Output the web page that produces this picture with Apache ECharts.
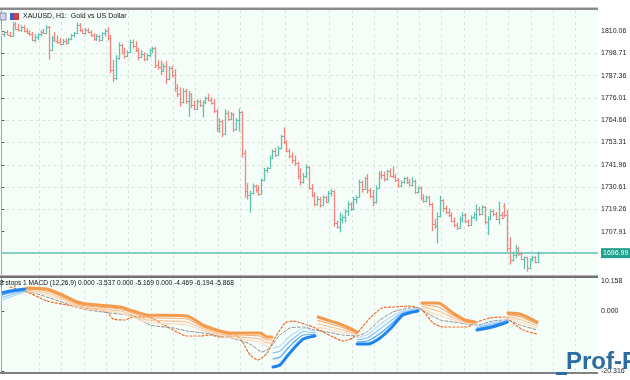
<!DOCTYPE html>
<html><head><meta charset="utf-8">
<script src="https://cdn.jsdelivr.net/npm/echarts@6/dist/echarts.min.js"></script>
<style>html,body{margin:0;padding:0;background:#fff}#c{width:630px;height:380px}</style>
</head><body><div id="c"></div>
<script>
// ---- price data (H1 bars) ----
const opens = [
1809,1808.5,1809.5,1808.2,1807.5,1813.5,1811,1810.5,1812,1810,
1809.2,1808.6,1805.5,1806.8,1808.3,1809.6,1809,1812,1800.5,1806.5,
1805.2,1804.6,1803.5,1805.2,1804,1806.2,1807.8,1809,1813.2,1810.4,
1809.2,1810.8,1809.6,1807.8,1805.8,1807.6,1805.4,1808.8,1810.2,1806.4,
1790.4,1786,1796.2,1802.8,1799.4,1797.2,1799.5,1804.6,1802.2,1800.2,
1797,1798.6,1795.8,1797.6,1800.4,1801.4,1793,1791.6,1789.8,1792.4,
1785.6,1791,1787.6,1781,1777.8,1773.8,1779.4,1774.6,1777.8,1772.2,
1770.6,1774.2,1772.6,1773.8,1775.8,1774.8,1773.4,1769.4,1760.6,1764.4,
1757.6,1768.4,1765.4,1767.6,1760.4,1764.6,1768.6,1748.2,1728.4,1726.6,
1727.8,1731.2,1729,1727.2,1734.2,1739.2,1740.2,1745.6,1749.2,1747.2,
1750.6,1756.6,1753.4,1749.2,1746.2,1744.2,1742.8,1736.2,1733.2,1736.4,
1740.8,1730.2,1726.4,1722,1724.8,1721.6,1725.4,1723.2,1727.6,1728.4,
1712.2,1710.4,1714.6,1715.4,1718.4,1722.2,1719.6,1724.6,1725.8,1733.2,
1729.8,1735,1729,1726,1722.8,1730.4,1737.4,1736.6,1734.6,1738.6,
1736.4,1736,1734,1731.2,1733.2,1735,1733,1731.8,1733.8,1728.2,
1730.2,1725,1723.4,1725.4,1721.8,1711.6,1711,1715.8,1723.8,1719.8,
1718,1716.6,1713.4,1711.2,1709.8,1714.4,1716.6,1713.2,1711.4,1715.2,
1716.8,1719.6,1717,1720.4,1713,1714.6,1718.4,1717,1714.6,1716.4,
1720.8,1716.4,1699.8,1693.6,1696.2,1699.4,1696.4,1694.2,1694.8,1689.6,
1693.8,1695,1692.4];
const highs = [
1810.5,1810,1810.5,1809.5,1814.5,1814.6,1813.8,1813,1813,1811.5,
1810.5,1809.5,1808.5,1809,1810.5,1811.2,1813,1812.6,1807.5,1809.5,
1807.8,1806.5,1806,1806.3,1806.8,1808.6,1809.6,1814.4,1814,1811.2,
1811.6,1811.5,1810.4,1809,1808.5,1808.2,1809.5,1811.2,1812,1808.2,
1795.5,1797.8,1804.2,1803.6,1801.5,1800.2,1805.6,1805.8,1804.8,1801.6,
1800.4,1799.2,1798.6,1801.2,1802,1802,1795.2,1795,1793.6,1794.8,
1792.2,1792.4,1790.6,1783,1781.4,1781,1780.6,1779.6,1778.4,1774.6,
1775.2,1775,1774.6,1776.6,1778.2,1776.4,1775.6,1770.4,1765.6,1765,
1770.2,1769.6,1768.8,1768.4,1765.8,1770.6,1769.4,1749.6,1732.6,1728.8,
1732.4,1731.8,1731.6,1735,1740.4,1741,1746.8,1749.8,1750.6,1751.4,
1757.2,1761,1754.6,1750.2,1748.2,1746.6,1743.6,1740.2,1737.8,1742.2,
1741.4,1732.2,1728,1726.2,1725.6,1726.4,1726.2,1728.6,1729.6,1729,
1713.6,1717.6,1716.6,1719.4,1723.4,1723,1725.6,1726.4,1734.4,1734,
1735.8,1737.2,1730.2,1729.2,1731.4,1738.6,1738.8,1738.6,1739.4,1740,
1741.2,1737.2,1735.2,1734,1735.8,1736,1734.8,1735.6,1734.4,1731,
1731,1727,1726.4,1726.2,1722.6,1714.4,1717.6,1726.2,1724.4,1721.2,
1719.8,1717.8,1715.2,1712.6,1715.6,1717.8,1717.4,1714.2,1716.2,1717.8,
1721.8,1720.6,1721.4,1721,1715.8,1719.4,1719.2,1718,1723.2,1718,
1722.4,1719,1705,1697.8,1701.2,1700.2,1697.6,1695.4,1695.2,1694.4,
1695.8,1695.6,1697.8];
const lows = [
1807.5,1807,1808,1806.8,1807,1810.5,1809.8,1809.5,1809.4,1808.5,
1807.5,1804.8,1804.2,1805.5,1807.2,1808.5,1808.6,1795.5,1800,1804.8,
1803.5,1802.8,1803,1803.2,1803.6,1805.4,1806.8,1808.5,1809.6,1808.6,
1808.2,1808.8,1807,1805,1805,1804.6,1805,1807.4,1805.2,1788.6,
1784,1785.2,1795.4,1798.2,1796,1796.8,1798.8,1801.2,1799.2,1795.2,
1796.2,1794.6,1795,1796.6,1798.8,1791.2,1790.4,1787.6,1789.2,1783,
1785,1786.4,1779.2,1776.4,1771.6,1773.2,1773,1766.4,1770.8,1769.8,
1770,1771.4,1766.2,1772.8,1774.2,1772.6,1768.2,1758.8,1758.2,1756,
1757.2,1764.2,1764.6,1758.6,1759.4,1759,1745.6,1725.2,1724.2,1717.6,
1726.8,1727.8,1726.2,1726.8,1733.6,1737.8,1740,1744.8,1746,1746.4,
1749.8,1752.6,1748.2,1745.2,1742.6,1741.4,1734.6,1731.4,1732.4,1735.2,
1729.2,1725.4,1720.8,1721.2,1720.2,1721,1722.4,1722.8,1725.8,1710.4,
1709.4,1707.6,1712.2,1712.6,1716,1718.4,1718.8,1722.2,1725.2,1727.8,
1729.2,1727.4,1724.8,1720.8,1722.2,1729.8,1734.6,1733.4,1734,1735.6,
1735.2,1733.2,1730.4,1730.6,1732.4,1732.2,1731,1730.8,1727.2,1727.4,
1723.8,1722.6,1722.8,1720.8,1708.2,1709.4,1702,1715.2,1718.2,1716.8,
1715.4,1712.6,1710.2,1708.8,1709.4,1712.6,1712.2,1710.4,1710.8,1714.2,
1713.2,1716,1716.4,1711.6,1706.2,1713.8,1715.8,1713.8,1711.6,1714.2,
1715.2,1697.8,1691.2,1692.8,1694.4,1695.6,1693.4,1688.8,1687.6,1689,
1692.6,1691.8,1692];
const closes = [
1808.5,1809.5,1808.2,1807.5,1813.5,1811,1810.5,1812,1810,1809.2,
1808.6,1805.5,1806.8,1808.3,1809.6,1809,1812,1800.5,1805.5,1805.2,
1804.6,1803.5,1805.2,1804,1806.2,1807.8,1809,1813.2,1810.4,1809.2,
1810.8,1809.6,1807.8,1805.8,1807.6,1805.4,1808.8,1810.2,1806.4,1790.4,
1786,1796.2,1802.8,1799.4,1797.2,1799.5,1804.6,1802.2,1800.2,1797,
1798.6,1795.8,1797.6,1800.4,1801.4,1793,1791.6,1789.8,1792.4,1785.6,
1791,1787.6,1781,1777.8,1773.8,1779.4,1774.6,1777.8,1772.2,1770.6,
1774.2,1772.6,1773.8,1775.8,1774.8,1773.4,1769.4,1760.6,1764.4,1757.6,
1768.4,1765.4,1767.6,1760.4,1764.6,1768.6,1748.2,1728.4,1726.6,1727.8,
1731.2,1729,1727.2,1734.2,1739.2,1740.2,1745.6,1749.2,1747.2,1750.6,
1756.6,1753.4,1749.2,1746.2,1744.2,1742.8,1736.2,1733.2,1736.4,1740.8,
1730.2,1726.4,1722,1724.8,1721.6,1725.4,1723.2,1727.6,1728.4,1712.2,
1710.4,1714.6,1715.4,1718.4,1722.2,1719.6,1724.6,1725.8,1733.2,1729.8,
1735,1729,1726,1722.8,1730.4,1737.4,1736.6,1734.6,1738.6,1736.4,
1736,1734,1731.2,1733.2,1735,1733,1731.8,1733.8,1728.2,1730.2,
1725,1723.4,1725.4,1721.8,1711.6,1711,1715.8,1723.8,1719.8,1718,
1716.6,1713.4,1711.2,1709.8,1714.4,1716.6,1713.2,1711.4,1715.2,1716.8,
1719.6,1717,1720.4,1713,1714.6,1718.4,1717,1714.6,1716.4,1715,
1716.4,1699.8,1693.6,1696.2,1699.4,1696.4,1694.2,1694.8,1689.6,1693.8,
1695,1692.4,1696.99];
const priceTicks = [1810.06,1798.71,1787.36,1776.01,1764.66,1753.31,1741.96,1730.61,1719.26,1707.91];
const macdTicks = [10.158, 0, -20.316];
const SLOTS = 214;

// ---- indicator lines, [bar index, value]; null value = break ----
const stop1Blue = [[0,6.10],[3.1,6.77],[8.4,7.45],[50,null],
 [97.2,-18.96],[99.7,-18.29],[102.6,-14.9],[105.1,-12.19],[108,-9.48],[112.2,-8.47],[120,null],
 [127.3,-11.17],[131.2,-11.17],[135.5,-9.14],[139.8,-5.42],[143.7,-1.35],[149.1,0],[160,null],
 [170.2,-6.43],[175.6,-5.42],[181,-3.72]];
const stop2Blue = [[0,5.25],[3.1,6.1],[8.4,7.1],[50,null],
 [97.2,-16.25],[99.7,-15.58],[102.6,-12.53],[105.1,-10.16],[108,-8.13],[112.2,-7.96],[120,null],
 [127.3,-10.5],[131.2,-10.08],[135.5,-7.62],[139.8,-4.22],[143.7,-0.89],[149.1,0.26],[160,null],
 [170.2,-6.01],[175.6,-4.92],[181,-3.55]];
const stop3Blue = [[0,4.4],[3.1,5.4],[8.4,6.8],[50,null],
 [97.2,-14.22],[99.7,-13.55],[102.6,-10.84],[105.1,-8.80],[108,-6.94],[112.2,-7.45],[120,null],
 [127.3,-9.82],[131.2,-8.99],[135.5,-6.10],[139.8,-3.01],[143.7,-0.43],[149.1,0.51],[160,null],
 [170.2,-5.59],[175.6,-4.41],[181,-3.39]];
const stop4Blue = [[0,3.6],[3.1,4.7],[8.4,6.4],[50,null],
 [97.2,-12.53],[99.7,-11.86],[102.6,-9.14],[105.1,-7.45],[108,-5.76],[112.2,-6.95],[120,null],
 [127.3,-9.15],[131.2,-7.89],[135.5,-4.57],[139.8,-1.81],[143.7,0.04],[149.1,0.77],[160,null],
 [170.2,-5.16],[175.6,-3.91],[181,-3.22]];
const stop1Orange = [[9.2,7.79],[16.3,7.45],[21,5.76],[27.1,3.05],[30.6,2.37],[42.4,1.35],[47.1,0],[52.1,-1.35],[66.4,-1.69],[72.9,-5.08],[81.8,-7.45],[92.6,-7.45],[95.1,-8.80],[96.8,-8.80],[105,null],
 [113.3,-2.03],[116.5,-3.05],[120.1,-4.06],[123.7,-5.42],[127.3,-7.11],[140,null],
 [150.5,2.71],[156.3,2.71],[161.6,-0.68],[165.9,-3.05],[169.5,-3.72],[175,null],
 [181.3,-0.68],[185.6,-1.02],[191.7,-3.72]];
const stop2Orange = [[9.2,7.45],[16.3,6.77],[21,5.08],[27.1,2.37],[30.6,1.69],[42.4,0.67],[47.1,-0.68],[52.1,-2.2],[66.4,-2.71],[72.9,-5.69],[81.8,-7.96],[92.6,-8.47],[95.1,-9.82],[96.8,-9.82],[105,null],
 [113.3,-3.2],[116.5,-4.07],[120.1,-5.0],[123.7,-6.12],[127.3,-7.45],[140,null],
 [150.5,2.11],[156.3,1.36],[161.6,-1.44],[165.9,-3.36],[169.5,-3.97],[175,null],
 [181.3,-1.29],[185.6,-1.95],[191.7,-4.4]];
const stop3Orange = [[9.2,7.11],[16.3,6.10],[21,4.41],[27.1,1.86],[30.6,1.18],[42.4,0],[47.1,-1.35],[52.1,-3.04],[66.4,-3.72],[72.9,-6.3],[81.8,-8.47],[92.6,-9.48],[95.1,-10.83],[96.8,-10.83],[105,null],
 [113.3,-4.37],[116.5,-5.08],[120.1,-5.93],[123.7,-6.81],[127.3,-7.79],[140,null],
 [150.5,1.5],[156.3,0],[161.6,-2.2],[165.9,-3.68],[169.5,-4.21],[175,null],
 [181.3,-1.89],[185.6,-2.88],[191.7,-5.08]];
const stop4Orange = [[9.2,6.77],[16.3,5.42],[21,3.73],[27.1,1.36],[30.6,0.68],[42.4,-0.68],[47.1,-2.03],[52.1,-3.89],[66.4,-4.74],[72.9,-6.91],[81.8,-8.97],[92.6,-10.50],[95.1,-12.02],[96.8,-12.19],[105,null],
 [113.3,-5.53],[116.5,-6.1],[120.1,-6.87],[123.7,-7.5],[127.3,-8.13],[140,null],
 [150.5,0.9],[156.3,-1.35],[161.6,-2.96],[165.9,-3.99],[169.5,-4.46],[175,null],
 [181.3,-2.5],[185.6,-3.81],[191.7,-5.75]];
const signalLine = [[9.2,6.77],[16.3,4.74],[29.2,0.68],[38.9,-0.68],[47.1,-1.7],[53.2,-4.74],[61.4,-5.76],[66.4,-6.77],[74.7,-7.79],[82.9,-9.3],[89,-11.2],[93.3,-13.88],[96.1,-12.53],[99.7,-8.13],[103.3,-5.76],[108,-5.42],[112.2,-6.43],[116.5,-7.11],[122.3,-8.13],[127.3,-8.47],[130.8,-7.11],[135.5,-3.05],[140.2,-0.34],[146.3,1.02],[149.1,1.02],[152.3,-0.68],[157,-3.05],[161.6,-3.72],[166.6,-4.40],[170.2,-4.74],[175.9,-3.39],[181,-3.05],[185.6,-4.74],[191.7,-6.43]];
const macdLine = [[3.1,8.13],[9.2,6.43],[16.3,3.39],[23.5,2.03],[29.2,1.02],[37.8,-0.34],[40,-2.71],[44.2,-3.05],[47.1,-2.0],[52.1,-2.03],[61.4,-6.43],[66.4,-8.47],[71.1,-8.47],[74.7,-8.1],[78.2,-8.80],[84.3,-8.47],[86.5,-10.84],[89,-14.9],[91.8,-16.59],[95.1,-14.22],[97.9,-9.14],[101.5,-4.06],[104.4,-3.39],[109.4,-4.74],[111.5,-5.42],[115.1,-7.11],[118.7,-8.80],[122.3,-10.16],[125.8,-9.14],[128.3,-6.43],[131.9,-2.37],[136.2,1.02],[140.2,1.35],[146.3,1.69],[150.5,0.34],[154.5,-4.06],[158.1,-5.42],[166.6,-5.42],[170.2,-3.72],[174.9,-2.37],[180.2,-2.03],[183.1,-4.06],[186.7,-6.43],[191.7,-7.79]];

const UP = '#5cc3b0', DOWN = '#f3857e';
const BG = '#f4fdf8';
const FONT = "'Liberation Sans',Arial,sans-serif";
const slots = Array.from({length: SLOTS}, (_, k) => String(k));
const barData = closes.map((c, k) => [k, opens[k], highs[k], lows[k], c]);
const lastPrice = closes[closes.length - 1];

const gridSplit = {show: true, showMinLine: false, showMaxLine: false, interval: (idx) => idx % 8 === 6, lineStyle: {color: '#dbe5e0', type: [3, 3], width: 1}};
function catAxis(g) {
  return {type: 'category', gridIndex: g, data: slots, boundaryGap: true, axisLine: {show: false}, axisTick: {show: false}, axisLabel: {show: false}, splitLine: gridSplit};
}
function valAxis(g) {
  return {type: 'value', gridIndex: g, min: -0.5, max: SLOTS - 0.5, show: false, axisLine: {show: false}, splitLine: {show: false}};
}
function ln(data, color, width, type, z) {
  return {type: 'line', xAxisIndex: 3, yAxisIndex: 1, data: data, showSymbol: false, symbol: 'none', smooth: 0.2, connectNulls: false, z: z,
    lineStyle: {color: color, width: width, type: type || 'solid', cap: 'round'}, silent: true};
}

const chart = echarts.init(document.getElementById('c'), null, {renderer: 'canvas'});
chart.setOption({
  animation: false,
  backgroundColor: '#ffffff',
  grid: [
    {left: 0, top: 10, width: 598, height: 265, show: true, backgroundColor: BG, borderWidth: 0, outerBoundsMode: 'none'},
    {left: 0, top: 278, width: 598, height: 94, show: true, backgroundColor: BG, borderWidth: 0, outerBoundsMode: 'none'}
  ],
  xAxis: [catAxis(0), valAxis(0), catAxis(1), valAxis(1)],
  yAxis: [
    {type: 'value', gridIndex: 0, position: 'right', min: 1685.87, max: 1820.75,
     axisLine: {show: true, lineStyle: {color: '#555', width: 1}},
     axisTick: {show: true, length: 3, customValues: priceTicks, lineStyle: {color: '#555'}},
     axisLabel: {customValues: priceTicks, fontSize: 7, fontFamily: FONT, color: '#222', margin: 3, formatter: v => v.toFixed(2)},
     splitLine: {show: true, showMinLine: false, showMaxLine: false, lineStyle: {color: '#dbe5e0', type: [3, 3]}}},
    {type: 'value', gridIndex: 1, position: 'right', min: -20.66, max: 11.17,
     axisLine: {show: true, lineStyle: {color: '#555', width: 1}},
     axisTick: {show: true, length: 3, customValues: macdTicks, lineStyle: {color: '#555'}},
     axisLabel: {customValues: macdTicks, fontSize: 7, fontFamily: FONT, color: '#222', margin: 3, formatter: v => v.toFixed(3)},
     splitLine: {show: false}}
  ],
  series: [
    {type: 'custom', name: 'XAUUSD', xAxisIndex: 1, yAxisIndex: 0, data: barData, encode: {x: 0, y: [1, 2, 3, 4]}, z: 3,
     renderItem: function (params, api) {
       const k = api.value(0), o = api.value(1), h = api.value(2), l = api.value(3), c = api.value(4);
       const pt = api.coord([k, h]), pb = api.coord([k, l]), po = api.coord([k, o]), pc = api.coord([k, c]);
       const x = Math.round(pt[0]) + 0.5;
       const col = c >= o ? UP : DOWN;
       const yo = Math.round(po[1]) + 0.5, yc = Math.round(pc[1]) + 0.5;
       return {type: 'group', children: [
         {type: 'line', shape: {x1: x, y1: pt[1], x2: x, y2: pb[1]}, style: {stroke: col, lineWidth: 1.3}},
         {type: 'line', shape: {x1: x - 1.5, y1: yo, x2: x, y2: yo}, style: {stroke: col, lineWidth: 1}},
         {type: 'line', shape: {x1: x, y1: yc, x2: x + 1.5, y2: yc}, style: {stroke: col, lineWidth: 1}}
       ]};
     }},
    {type: 'line', xAxisIndex: 1, yAxisIndex: 0, data: [], z: 4,
     markLine: {silent: true, symbol: ['none', 'none'], animation: false,
       lineStyle: {color: '#62bfb0', width: 1.5, type: 'solid'},
       label: {show: true, position: 'end', distance: 3, formatter: lastPrice.toFixed(2), color: '#ffffff', backgroundColor: '#22a08c', padding: [2, 2, 1, 2], fontSize: 7, fontFamily: FONT},
       data: [{yAxis: lastPrice}]}},
    ln(macdLine, '#f06a2a', 1.2, [2, 2], 2),
    ln(signalLine, '#8f8f8f', 1, [3, 2], 2),
    ln(stop4Orange, '#fcd9bb', 1.2, 'solid', 3),
    ln(stop3Orange, '#f9c397', 1.2, 'solid', 3),
    ln(stop2Orange, '#f6ab6c', 1.2, 'solid', 3),
    ln(stop4Blue, '#b8dafa', 1.2, 'solid', 3),
    ln(stop3Blue, '#88c1f6', 1.2, 'solid', 3),
    ln(stop2Blue, '#4fa4f2', 1.2, 'solid', 3),
    ln(stop1Orange, '#f39a4c', 3, 'solid', 4),
    ln(stop1Blue, '#1f84ee', 3, 'solid', 4)
  ],
  graphic: [
    {type: 'rect', shape: {x: 0, y: 10, width: 1.5, height: 362}, style: {fill: BG}, z: 9, silent: true},
    {type: 'rect', shape: {x: 0, y: 7, width: 598, height: 1}, style: {fill: '#c8c8c8'}, z: 10},
    {type: 'rect', shape: {x: 0, y: 8, width: 598, height: 2}, style: {fill: '#8a8a8a'}, z: 10},
    {type: 'rect', shape: {x: 0, y: 275, width: 598, height: 1}, style: {fill: '#b4b4b4'}, z: 10},
    {type: 'rect', shape: {x: 0, y: 276, width: 598, height: 2}, style: {fill: '#707070'}, z: 10},
    {type: 'rect', shape: {x: 0, y: 372, width: 598, height: 2}, style: {fill: '#808080'}, z: 10},
    {type: 'rect', shape: {x: 0, y: 13, width: 6, height: 7}, style: {fill: '#d4d4e8', stroke: '#8a8ab0', lineWidth: 1}, z: 10},
    {type: 'rect', shape: {x: 10, y: 13, width: 4, height: 7}, style: {fill: '#3a5fd0'}, z: 10},
    {type: 'rect', shape: {x: 14, y: 13, width: 5, height: 7}, style: {fill: '#d0404c'}, z: 10},
    {type: 'text', left: 23, top: 13, style: {text: 'XAUUSD, H1:  Gold vs US Dollar', fontSize: 7, fontFamily: FONT, fill: '#111'}, z: 10},
    {type: 'text', left: 0, top: 280, style: {text: '8 stops 1 MACD (12,26,9) 0.000 -3.537 0.000 -5.169 0.000 -4.469 -6.194 -5.868', fontSize: 6.6, fontFamily: FONT, fill: '#111'}, z: 10},
    {type: 'rect', shape: {x: 556, y: 372, width: 11, height: 3}, style: {fill: '#2d6aa0'}, z: 20},
    {type: 'text', left: 566, top: 350, style: {text: 'Prof-F', fontSize: 24, fontWeight: 'bold', fontFamily: FONT, fill: '#2d6aa0'}, z: 20}
  ]
});
</script>
</body></html>
